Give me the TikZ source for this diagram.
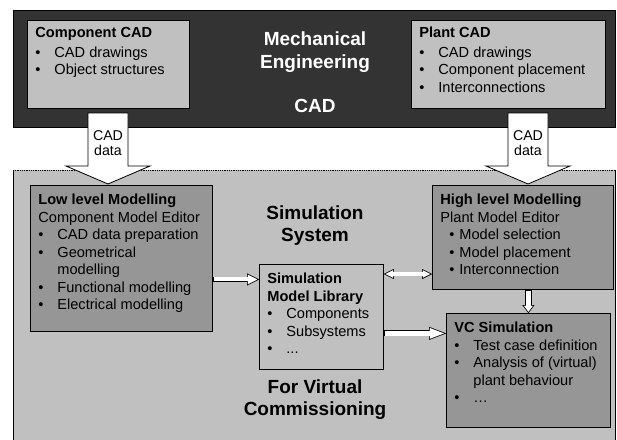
\documentclass[tikz,border=0pt]{standalone}
\usepackage{fontspec}
\setmainfont{Liberation Sans}
\usetikzlibrary{arrows.meta,positioning,calc}

\definecolor{mechgray}{RGB}{51,51,51}
\definecolor{litegray}{RGB}{192,192,192}
\definecolor{midgray}{RGB}{150,150,150}

\newcommand{\itm}[2][0pt]{\par\noindent\hangindent=19pt\hangafter=1\makebox[19pt][l]{\hspace*{#1}\textbullet}#2}
\newcommand{\boxtxt}[3]{\parbox[t][#2][t]{#1}{\raggedright #3}}

\begin{document}
\begin{tikzpicture}[x=1pt, y=-1pt,
    font=\fontsize{14.6}{17.5}\selectfont,
    cadbox/.style={rectangle, draw, line width=0.8pt, fill=litegray, anchor=north west, inner xsep=8pt, inner ysep=7pt},
    modbox/.style={cadbox, fill=midgray, inner ysep=9pt},
    libbox/.style={cadbox, inner ysep=9pt},
    bigtitle/.style={font=\bfseries\fontsize{19}{23}\selectfont, align=center, anchor=north, inner sep=0pt},
    bigarrow/.style={draw, line width=0.8pt, fill=white, line join=miter},
    hollow/.style={line width=5.6pt, -{Triangle[length=12pt,width=12pt,line width=0.01pt]},
        postaction={draw=white, line width=4pt, shorten <=0.8pt, shorten >=1.8pt, -{Triangle[length=9.4pt,width=9.4pt,line width=0.01pt]}}},
    hollowwide/.style={line width=6pt, -{Triangle[length=17pt,width=13pt,line width=0.01pt]},
        postaction={draw=white, line width=4.4pt, shorten <=0.8pt, shorten >=2.2pt, -{Triangle[length=14pt,width=10.7pt,line width=0.01pt]}}},
    hollowdown/.style={line width=7pt, -{Triangle[length=8pt,width=12pt,line width=0.01pt]},
        postaction={draw=white, line width=5.4pt, shorten <=0.8pt, shorten >=1.3pt, -{Triangle[length=5.9pt,width=8.8pt,line width=0.01pt]}}},
    hollowboth/.style={line width=4.7pt, {Triangle[length=10pt,width=10pt,line width=0.01pt]}-{Triangle[length=10pt,width=10pt,line width=0.01pt]},
        postaction={draw=white, line width=3.1pt, shorten <=1.8pt, shorten >=1.8pt, {Triangle[length=7.4pt,width=7.4pt,line width=0.01pt]}-{Triangle[length=7.4pt,width=7.4pt,line width=0.01pt]}}}
]

\useasboundingbox (0,0) rectangle (617,439);

% Mechanical engineering
\node[rectangle, draw, line width=0.8pt, fill=mechgray, anchor=north west, minimum width=602pt, minimum height=117pt, inner sep=0pt] (mech) at (13,10) {};
\node[cadbox] (compcad) at (27,20) {\boxtxt{146pt}{74pt}{\textbf{Component CAD}\par\vspace{2pt}\itm{CAD drawings}\itm{Object structures}}};
\node[cadbox] (plantcad) at (411,20) {\boxtxt{178pt}{74pt}{\textbf{Plant CAD}\par\vspace{2pt}\itm{CAD drawings}\itm{Component placement}\itm{Interconnections}}};
\node[bigtitle, text=white] (mechtitle) at (315,32) {Mechanical\\Engineering\\[21pt]CAD};

% Simulation system
\node[rectangle, fill=litegray, anchor=north west, minimum width=602pt, minimum height=280pt, inner sep=0pt] (simsys) at (13,170) {};
\draw[line width=0.8pt, densely dotted] (simsys.north west) -- (simsys.north east);
\draw[line width=0.8pt] (simsys.north west) -- (simsys.south west);
\draw[line width=0.8pt] (simsys.north east) -- (simsys.south east);
\node[bigtitle, font=\bfseries\fontsize{19}{21.5}\selectfont] (simtitle) at (315,206) {Simulation\\System};
\node[bigtitle, font=\bfseries\fontsize{19}{21.5}\selectfont] (vctitle) at (315,380) {For Virtual\\Commissioning};

\node[modbox] (low) at (30,185) {\boxtxt{166pt}{128pt}{\textbf{Low level Modelling}\par Component Model Editor\itm{CAD data preparation}\itm{Geometrical\newline modelling}\itm{Functional modelling}\itm{Electrical modelling}}};
\node[libbox] (lib) at (259,264) {\boxtxt{108pt}{87pt}{\textbf{Simulation\newline Model Library}\itm{Components}\itm{Subsystems}\itm{...}}};
\node[modbox] (high) at (432,185) {\boxtxt{165pt}{86pt}{\textbf{High level Modelling}\par Plant Model Editor\itm[9pt]{Model selection}\itm[9pt]{Model placement}\itm[9pt]{Interconnection}}};
\node[modbox] (vc) at (446,313) {\boxtxt{148pt}{96pt}{\textbf{VC Simulation}\itm{Test case definition}\itm{Analysis of (virtual)\newline plant behaviour}\itm{…}}};

% Model flow
\coordinate (lowout) at ([yshift=-21pt]low.east);
\draw[hollow] (lowout) -- (lowout -| lib.west);
\coordinate (libhigh) at ([yshift=-10pt]lib.north east);
\draw[hollowboth] (libhigh) -- (libhigh -| high.west);
\coordinate (libvc) at ([yshift=-16.5pt]lib.east);
\draw[hollowwide] (libvc) -- (libvc -| vc.west);
\draw[hollowdown] (vc.north |- high.south) -- (vc.north);

% CAD data transfer
\coordinate (cadin) at (108,143);
\draw[bigarrow] ($(cadin)+(-20,-30)$) -- ++(40,0) -- ++(0,53) -- ++(22,0) -- ++(-42,18) -- ++(-42,-18) -- ++(22,0) -- cycle;
\node[inner sep=0pt, align=center, font=\fontsize{14.2}{15.5}\selectfont] (cadlabel) at (cadin) {CAD\\data};
\coordinate (plantin) at (528,143);
\draw[bigarrow] ($(plantin)+(-20,-30)$) -- ++(40,0) -- ++(0,53) -- ++(22,0) -- ++(-42,18) -- ++(-42,-18) -- ++(22,0) -- cycle;
\node[inner sep=0pt, align=center, font=\fontsize{14.2}{15.5}\selectfont] (plantlabel) at (plantin) {CAD\\data};

\end{tikzpicture}
\end{document}
